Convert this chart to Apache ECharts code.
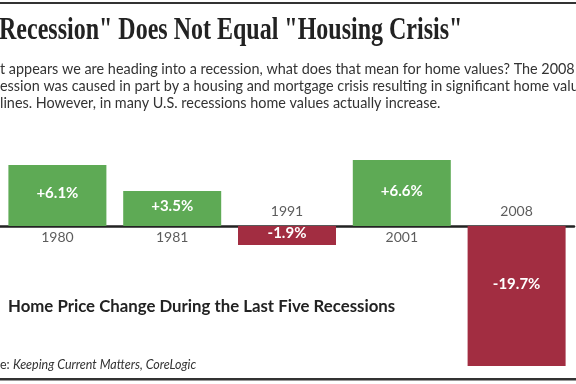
<!DOCTYPE html>
<html>
<head>
<meta charset="utf-8">
<script src="https://cdn.jsdelivr.net/npm/echarts@6/dist/echarts.min.js"></script>
<style>
html,body{margin:0;padding:0;background:#fff;}
#chart{width:576px;height:384px;}
</style>
</head>
<body>
<div id="chart"></div>
<script>
// Data
var years = ['1980', '1981', '1991', '2001', '2008'];
var priceChange = [6.1, 3.5, -1.9, 6.6, -19.7];
var titleText = 'Recession" Does Not Equal "Housing Crisis"';
var bodyLines = [
  't appears we are heading into a recession, what does that mean for home values? The 2008',
  'ession was caused in part by a housing and mortgage crisis resulting in significant home value',
  'lines. However, in many U.S. recessions home values actually increase.'
];
var chartTitle = 'Home Price Change During the Last Five Recessions';
var sourcePrefix = 'e: ';
var sourceText = 'Keeping Current Matters, CoreLogic';

var GREEN = '#5eaa55', RED = '#a22d41';

var chart = echarts.init(document.getElementById('chart'), null, {renderer: 'canvas'});

var barData = priceChange.map(function (v, i) {
  var item = {
    value: v,
    itemStyle: {color: v >= 0 ? GREEN : RED}
  };
  if (v < -14) {
    item.label = {position: 'insideTop', distance: 53};
  }
  return item;
});

var yearData = years.map(function (y, i) {
  var neg = priceChange[i] < 0;
  return {
    value: [y, 0],
    label: {position: neg ? 'top' : 'bottom', distance: neg ? 7 : 4}
  };
});

var sansBody = 'Lato';

chart.setOption({
  animation: false,
  grid: {left: -2, right: 2, top: 156, bottom: 18, containLabel: false},
  xAxis: {
    type: 'category',
    data: years,
    axisLine: {show: true, onZero: true, lineStyle: {color: '#222', width: 2.5}},
    axisTick: {show: false},
    axisLabel: {show: false},
    splitLine: {show: false}
  },
  yAxis: {
    type: 'value',
    min: -14,
    max: 7,
    show: false,
    splitLine: {show: false}
  },
  series: [
    {
      type: 'bar',
      data: barData,
      barWidth: 98,
      clip: true,
      z: 1,
      label: {
        show: true,
        position: 'inside',
        offset: [0, -2],
        color: '#fff',
        fontFamily: sansBody,
        fontWeight: 'bold',
        fontSize: 15,
        formatter: function (p) {
          var v = p.value;
          return (v > 0 ? '+' : '') + v.toFixed(1) + '%';
        }
      }
    },
    {
      type: 'scatter',
      data: yearData,
      symbolSize: 1,
      itemStyle: {color: 'rgba(0,0,0,0)'},
      silent: true,
      z: 3,
      label: {
        show: true,
        color: '#333',
        fontFamily: sansBody,
        fontSize: 14,
        formatter: function (p) { return p.value[0]; }
      }
    }
  ],
  graphic: [
    {type: 'rect', shape: {x: 0, y: 2, width: 576, height: 2}, style: {fill: '#333'}, silent: true},
    {type: 'rect', shape: {x: 0, y: 378, width: 576, height: 2.5}, style: {fill: '#333'}, silent: true},
    {
      type: 'text', x: -1, y: 15, scaleX: 0.75, silent: true,
      style: {text: titleText, fill: '#222', font: 'bold 32px "Liberation Serif"', verticalAlign: 'top'}
    },
    {
      type: 'text', left: 0, top: 62, silent: true,
      style: {text: bodyLines[0], fill: '#333', font: '14.4px ' + sansBody}
    },
    {
      type: 'text', left: 0, top: 79, silent: true,
      style: {text: bodyLines[1], fill: '#333', font: '14.4px ' + sansBody}
    },
    {
      type: 'text', left: 0, top: 96, silent: true,
      style: {text: bodyLines[2], fill: '#333', font: '14.4px ' + sansBody}
    },
    {
      type: 'text', left: 8, top: 298, silent: true,
      style: {text: chartTitle, fill: '#222', font: 'bold 16.8px ' + sansBody}
    },
    {
      type: 'text', left: 0, top: 358, silent: true,
      style: {
        text: '{a|' + sourcePrefix + '}{b|' + sourceText + '}',
        rich: {
          a: {fill: '#333', font: '12.5px ' + sansBody},
          b: {fill: '#333', font: 'italic 12.5px ' + sansBody}
        }
      }
    }
  ]
});
</script>
</body>
</html>
